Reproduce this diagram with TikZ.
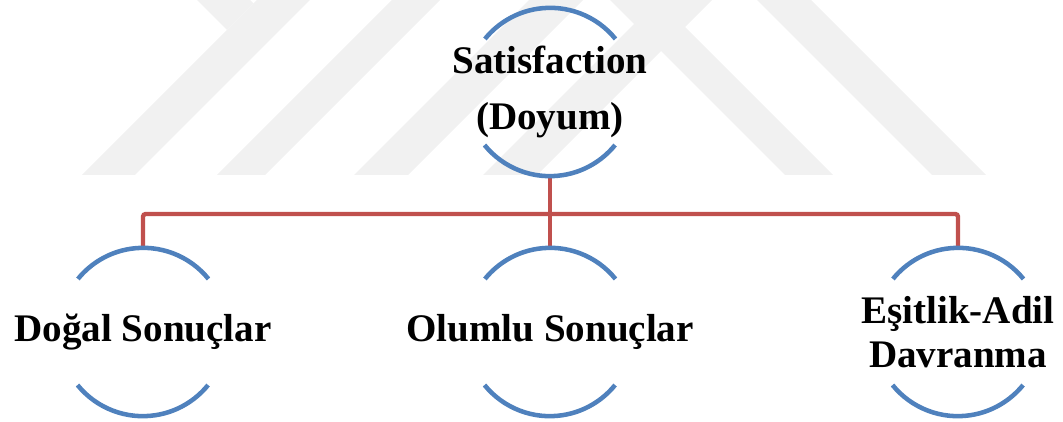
\documentclass[tikz,border=0pt]{standalone}
\usepackage{fontspec}
\setmainfont{Liberation Serif}
\definecolor{ringblue}{HTML}{4F81BD}
\definecolor{linkred}{HTML}{C0504D}
\definecolor{markgray}{HTML}{F1F1F1}

\begin{document}
\begin{tikzpicture}[x=0.75pt, y=0.75pt,
                    every node/.style={black, align=center,
                      font=\bfseries\fontsize{29.3}{42}\selectfont},
                    ring/.style={circle, minimum size=126pt, inner sep=0pt},
                    ringarc/.style={ringblue, line width=3.4pt},
                    link/.style={linkred, line width=3.3pt, rounded corners=2pt}]

  \useasboundingbox (0,0) rectangle (1063,421);

  %% arkadaki soluk filigran
  \fill[markgray] (82,246) -- (135,246) -- (310,421) -- (257,421) -- cycle;
  \fill[markgray] (197,421) -- (250,421) -- (253.5,417.5) -- (227,391) -- cycle;
  \fill[markgray] (217,246) -- (265,246) -- (440,421) -- (392,421) -- cycle;
  \fill[markgray] (354,246) -- (408,246) -- (583,421) -- (529,421) -- cycle;
  \fill[markgray] (483,246) -- (537,246) -- (712,421) -- (658,421) -- cycle;
  \fill[markgray] (785,246) -- (833,246) -- (658,421) -- (610,421) -- cycle;
  \fill[markgray] (932,246) -- (986,246) -- (811,421) -- (757,421) -- cycle;

  %% halkalar
  \node[ring] (sat)    at (550,329) {};
  \node[ring] (dogal)  at (143,89)  {};
  \node[ring] (olumlu) at (550,89)  {};
  \node[ring] (esit)   at (958,89)  {};

  %% bağlantılar
  \coordinate (bar) at (550,207);
  \draw[link] (sat.south) -- (olumlu.north);
  \draw[link] (dogal.north) |- (bar) -| (esit.north);

  %% her halkanın üst ve alt yayı
  \foreach \n in {sat, dogal, olumlu, esit} {
    \draw[ringarc] (\n.39) arc[start angle=39, end angle=141, radius=63pt];
    \draw[ringarc] (\n.219) arc[start angle=219, end angle=321, radius=63pt];
  }

  %% yazılar
  \node (satText)    at (sat)    {Satisfaction\\(Doyum)};
  \node (dogalText)  at (dogal)  {Doğal Sonuçlar};
  \node (olumluText) at (olumlu) {Olumlu Sonuçlar};
  \node[font=\bfseries\fontsize{29.3}{33}\selectfont] (esitText) at (esit)
    {Eşitlik-Adil\\Davranma};

\end{tikzpicture}
\end{document}
